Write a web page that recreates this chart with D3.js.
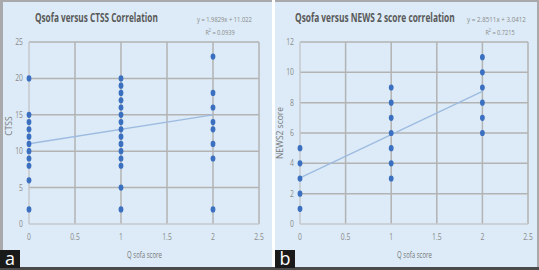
<!DOCTYPE html>
<html>
<head>
<meta charset="utf-8">
<script src="https://cdn.jsdelivr.net/npm/d3@7"></script>
<style>
  body { margin: 0; background: #fff; }
  svg { display: block; }
  text { font-family: "Open Sans", "Liberation Sans", sans-serif; }
</style>
</head>
<body>
<script>
// --- data ---
const ctssX0 = [2, 6, 8, 9, 10, 11, 12, 13, 14, 15, 20];
const ctssX1 = [2, 5, 8, 9, 10, 11, 12, 13, 14, 15, 16, 17, 18, 19, 20];
const ctssX2 = [2, 9, 11, 13, 14, 16, 18, 23];
const newsX0 = [1, 2, 3, 4, 5];
const newsX1 = [3, 4, 5, 6, 7, 8, 9];
const newsX2 = [6, 7, 8, 9, 10, 11];
const xTicks = [0, 0.5, 1, 1.5, 2, 2.5];
const ctssTicks = [0, 5, 10, 15, 20, 25];
const newsTicks = [0, 2, 4, 6, 8, 10, 12];
const ctssFit = { slope: 1.9829, intercept: 11.022, r2: "0.0939" };
const newsFit = { slope: 2.8511, intercept: 3.0412, r2: "0.7215" };

const W = 539, H = 270;
const svg = d3.select("body").append("svg").attr("width", W).attr("height", H);

// outer frame
svg.append("rect").attr("width", W).attr("height", H).attr("fill", "#a9a9ab");
svg.append("rect").attr("x", 272).attr("y", 0).attr("width", 3).attr("height", H).attr("fill", "#fff");
svg.append("rect").attr("x", 0).attr("y", 267).attr("width", W).attr("height", 3).attr("fill", "#4a4a4a");

// squeeze a text horizontally so it spans `w` px starting at x (anchor start)
function fitText(sel, x, y, w) {
  const nat = sel.node().getComputedTextLength();
  sel.attr("transform", `translate(${x},${y}) scale(${w / nat},1)`);
}

function panel(cfg) {
  const g = svg.append("g");
  g.append("rect")
    .attr("x", cfg.px).attr("y", 2).attr("width", cfg.pw).attr("height", 265)
    .attr("fill", "#dcebf7");

  const x = d3.scaleLinear().domain([0, 2.5]).range([cfg.x0, cfg.x1]);
  const y = d3.scaleLinear().domain([0, cfg.ymax]).range([224, 42]);

  // gridlines
  g.append("g").selectAll("line").data(cfg.yTicks.filter(d => d > 0)).join("line")
    .attr("x1", x(0)).attr("x2", x(2.5))
    .attr("y1", d => y(d)).attr("y2", d => y(d))
    .attr("stroke", "#b3b3b3").attr("stroke-width", 1.5);
  g.append("g").selectAll("line").data(xTicks).join("line")
    .attr("x1", d => x(d)).attr("x2", d => x(d))
    .attr("y1", y(0)).attr("y2", y(cfg.ymax))
    .attr("stroke", d => d === 0 ? "#c6c9cc" : "#b3b3b3").attr("stroke-width", 1.5);
  g.append("line")
    .attr("x1", x(0)).attr("x2", x(2.5)).attr("y1", y(0)).attr("y2", y(0))
    .attr("stroke", "#c6c9cc").attr("stroke-width", 1.5);

  // tick labels
  g.append("g").selectAll("text").data(cfg.yTicks).join("text")
    .attr("x", x(0) - 6).attr("y", d => y(d) + 3)
    .attr("text-anchor", "end").attr("font-size", 8.5).attr("fill", "#8a8a8a")
    .attr("transform", d => `translate(${x(0) - 6},0) scale(0.8,1) translate(${-(x(0) - 6)},0)`)
    .text(d => d);
  g.append("g").selectAll("text").data(xTicks).join("text")
    .attr("x", d => x(d)).attr("y", 240)
    .attr("text-anchor", "middle").attr("font-size", 8.5).attr("fill", "#8a8a8a")
    .attr("transform", d => `translate(${x(d)},0) scale(0.8,1) translate(${-x(d)},0)`)
    .text(d => d);

  // axis titles
  const xt = g.append("text").attr("font-size", 9).attr("fill", "#777").text("Q sofa score");
  fitText(xt, (x(0) + x(2.5)) / 2 - 17, 258, 35);
  g.append("text")
    .attr("transform", `translate(${cfg.ytx},${cfg.yty}) rotate(-90)`)
    .attr("text-anchor", "middle").attr("font-size", 8.5).attr("fill", "#777")
    .text(cfg.yLabel);

  // title
  const tt = g.append("text")
    .attr("font-size", 11.5).attr("font-weight", "bold").attr("fill", "#595959")
    .text(cfg.title);
  fitText(tt, cfg.tx, 22, cfg.tw);

  // equation
  const eq = g.append("text")
    .attr("font-size", 7).attr("fill", "#8a8a8a")
    .text(`y = ${cfg.fit.slope}x + ${cfg.fit.intercept}`);
  fitText(eq, cfg.ex, 22, cfg.ew);
  const r2 = g.append("text")
    .attr("transform", `translate(${cfg.rx},35) scale(0.75,1)`)
    .attr("text-anchor", "middle").attr("font-size", 7.5).attr("fill", "#8a8a8a");
  r2.append("tspan").text("R");
  r2.append("tspan").attr("font-size", 5).attr("dy", -3).text("2");
  r2.append("tspan").attr("dy", 3).text(" = " + cfg.fit.r2);

  // trend line
  g.append("line")
    .attr("x1", x(0)).attr("y1", y(cfg.fit.intercept))
    .attr("x2", x(2)).attr("y2", y(cfg.fit.slope * 2 + cfg.fit.intercept))
    .attr("stroke", "#9dbbe0").attr("stroke-width", 1.3);

  // points
  const pts = [];
  cfg.groups.forEach((vals, i) => vals.forEach(v => pts.push({ q: i, v })));
  g.append("g").selectAll("ellipse").data(pts).join("ellipse")
    .attr("cx", d => x(d.q)).attr("cy", d => y(d.v))
    .attr("rx", 2.4).attr("ry", 3.1)
    .attr("fill", "#3b6fc0");

  // panel letter
  g.append("rect").attr("x", cfg.lx).attr("y", 250).attr("width", 20).attr("height", 18).attr("fill", "#1a1a1a");
  g.append("text").attr("x", cfg.lx + 10).attr("y", 265)
    .attr("text-anchor", "middle").attr("font-size", 18).attr("fill", "#fff")
    .attr("font-family", "Liberation Sans, sans-serif")
    .text(cfg.letter);
}

panel({
  px: 3, pw: 269, x0: 29, x1: 259, ymax: 25, yTicks: ctssTicks,
  groups: [ctssX0, ctssX1, ctssX2], fit: ctssFit,
  title: "Qsofa versus CTSS Correlation", tx: 35, tw: 123,
  ex: 197, ew: 55, rx: 220, yLabel: "CTSS", ytx: 12, yty: 126,
  letter: "a", lx: 0
});

panel({
  px: 275, pw: 262, x0: 300, x1: 528, ymax: 12, yTicks: newsTicks,
  groups: [newsX0, newsX1, newsX2], fit: newsFit,
  title: "Qsofa versus NEWS 2 score correlation", tx: 295, tw: 160,
  ex: 467, ew: 59, rx: 500, yLabel: "NEWS2 score", ytx: 283, yty: 133,
  letter: "b", lx: 275
});
</script>
</body>
</html>
